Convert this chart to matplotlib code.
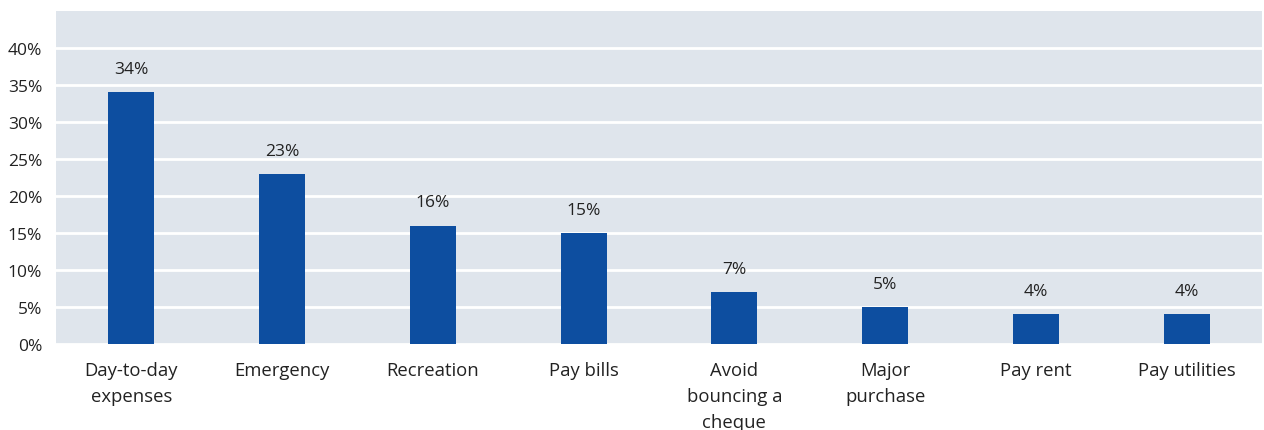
import matplotlib
matplotlib.use("Agg")
import matplotlib.pyplot as plt
from matplotlib.ticker import FuncFormatter

# data
categories = ["Day-to-day\nexpenses", "Emergency", "Recreation", "Pay bills",
              "Avoid\nbouncing a\ncheque", "Major\npurchase", "Pay rent", "Pay utilities"]
values = [34, 23, 16, 15, 7, 5, 4, 4]
yticks = [0, 5, 10, 15, 20, 25, 30, 35, 40]

BAR = "#0d4ea0"
BG = "#dfe5ec"
TXT = "#222222"

plt.rcParams["font.family"] = ["Open Sans", "DejaVu Sans"]

fig = plt.figure(figsize=(12.64, 4.31), dpi=100)
ax = fig.add_axes([56/1264, 86/431, 1206/1264, 333/431])
ax.set_facecolor(BG)

x = list(range(len(values)))
ax.bar(x, values, width=0.305, color=BAR, zorder=3)

for xi, v in zip(x, values):
    ax.annotate(f"{v}%", (xi, v), xytext=(0, 11), textcoords="offset points",
                ha="center", va="bottom", fontsize=12.5, color=TXT)

ax.set_xlim(-0.5, len(values) - 0.5)
ax.set_ylim(0, 45)
ax.set_yticks(yticks)
ax.yaxis.set_major_formatter(FuncFormatter(lambda v, p: f"{int(v)}%"))
ax.grid(axis="y", color="white", linewidth=2, zorder=1)
ax.set_xticks(x)
ax.set_xticklabels(categories, linespacing=1.6)

ax.tick_params(axis="both", length=0, labelsize=12.5, colors=TXT)
ax.tick_params(axis="x", labelsize=13.3, pad=12)
ax.tick_params(axis="y", pad=10)
for s in ax.spines.values():
    s.set_visible(False)

fig.savefig("out.png", dpi=100)
